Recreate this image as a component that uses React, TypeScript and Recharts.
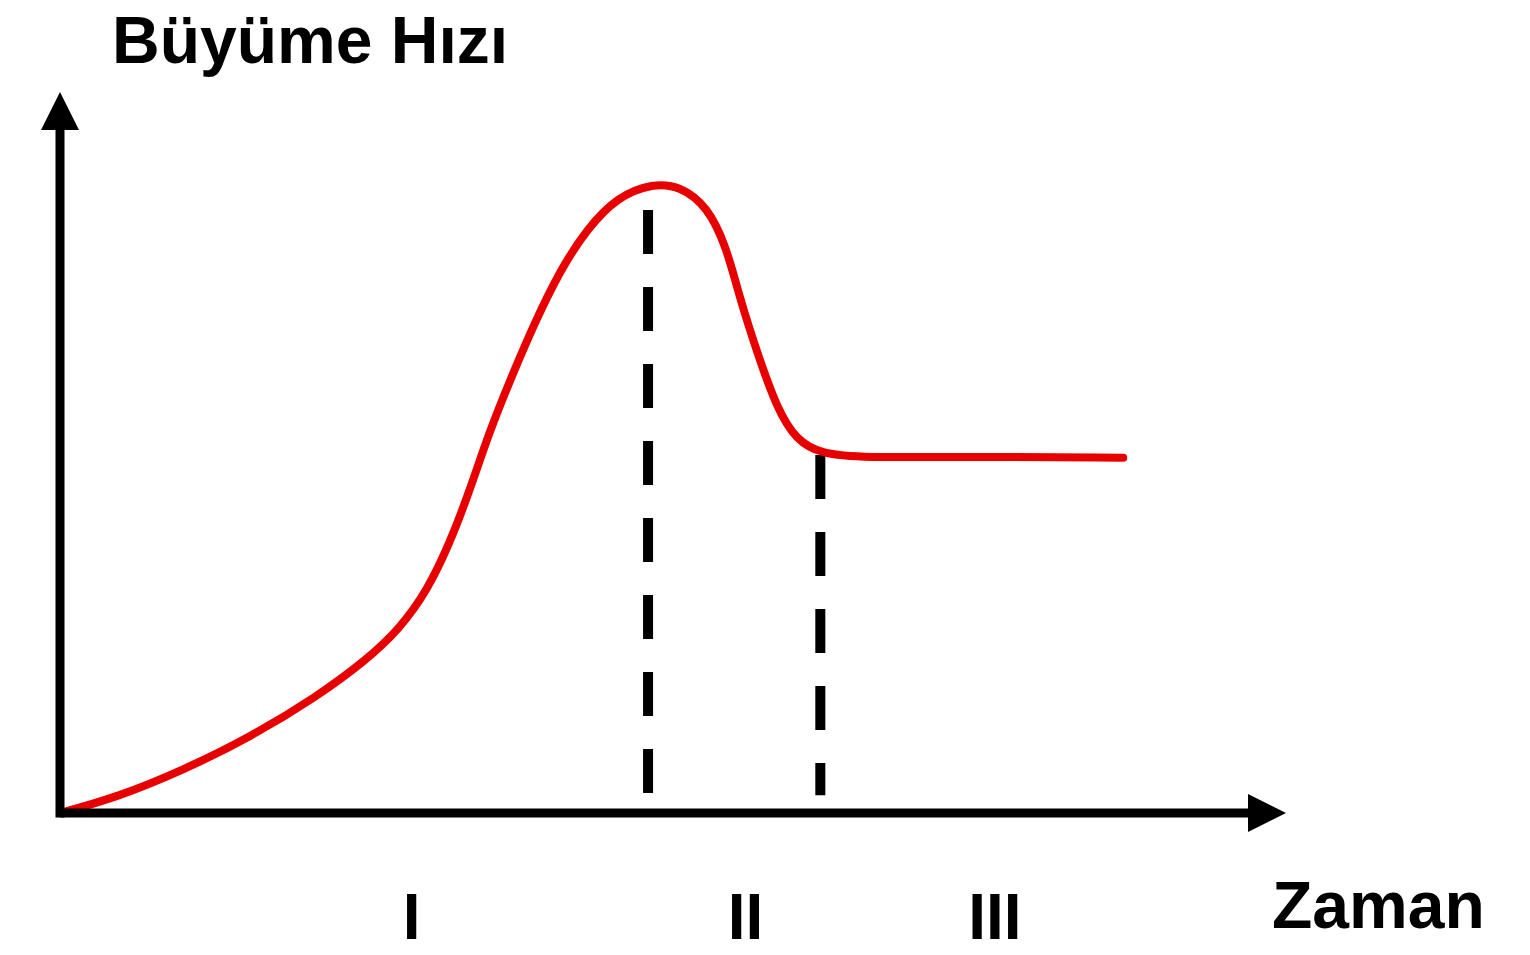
import { LineChart, Line, XAxis, YAxis, ReferenceLine } from 'recharts';

// growth-rate curve (time, rate on 0–100 scales)
const time = [0, 4.8, 10.4, 16.0, 21.6, 25.8, 28.6, 30.9, 32.8, 34.3, 36.2, 37.9, 39.8, 42.1, 44.4, 46.9, 49.9, 52.2, 54.5, 56.1, 57.2, 58.7, 60.4, 62.0, 64.0, 67.6, 76.0, 89.5];
const rate = [0, 2.3, 6.3, 11.1, 17.0, 22.4, 27.0, 32.5, 39.5, 46.3, 56.1, 63.4, 71.2, 79.5, 85.6, 90.2, 92.2, 91.8, 88.8, 82.9, 75.5, 67.3, 59.0, 54.6, 52.6, 52.0, 52.2, 52.0];

// phase boundaries (dashed drop lines)
const boundaryX = [49.5, 64.0];
const boundaryTop = [88.3, 52.4];
const boundaryBottom = [1.9, 2.6];

// phase labels under the time axis
const phaseTicks = [29.6, 57.7, 78.7];
const phaseLabels = ['I', 'II', 'III'];

const data = time.map((t, i) => ({ t, rate: rate[i] }));

const FONT = '"Liberation Sans", Arial, sans-serif';

export default function App() {
    return (
        <div style={{ position: 'relative', width: 1530, height: 955 }}>
            <style>{`body { margin: 0; }`}</style>
            <svg width={0} height={0} style={{ position: 'absolute' }}>
                <defs>
                    <marker id="arrowHead" viewBox="0 0 10 10" refX="0" refY="5"
                        markerWidth="38" markerHeight="40" markerUnits="userSpaceOnUse"
                        orient="auto-start-reverse">
                        <path d="M0,0 L10,5 L0,10 z" fill="#000" />
                    </marker>
                </defs>
            </svg>
            <LineChart
                width={1530}
                height={955}
                data={data}
                margin={{ top: 130, left: 59, right: 282, bottom: 141 }}
            >
                <XAxis
                    dataKey="t"
                    type="number"
                    domain={[0, 100]}
                    ticks={phaseTicks}
                    tickFormatter={(v: number) => phaseLabels[phaseTicks.indexOf(v)] ?? ''}
                    tickLine={false}
                    tickMargin={75}
                    height={1}
                    interval={0}
                    tick={{ fill: '#000', fontSize: 64, fontWeight: 700, fontFamily: FONT }}
                    axisLine={{ stroke: '#000', strokeWidth: 9, markerEnd: 'url(#arrowHead)' }}
                />
                <YAxis
                    type="number"
                    domain={[0, 100]}
                    width={1}
                    tick={false}
                    tickLine={false}
                    axisLine={{ stroke: '#000', strokeWidth: 9, markerStart: 'url(#arrowHead)', strokeLinecap: 'square' }}
                />
                {boundaryX.map((x, i) => (
                    <ReferenceLine
                        key={x}
                        segment={[{ x, y: boundaryTop[i] }, { x, y: boundaryBottom[i] }]}
                        stroke="#000"
                        strokeWidth={10}
                        strokeDasharray="44 33"
                    />
                ))}
                <Line
                    type="basis"
                    dataKey="rate"
                    stroke="#e60000"
                    strokeWidth={8}
                    strokeLinecap="round"
                    dot={false}
                    isAnimationActive={false}
                />
                <text x={112} y={63} fontFamily={FONT} fontWeight={700} fontSize={66} fill="#000">
                    Büyüme Hızı
                </text>
                <text x={1272} y={928} fontFamily={FONT} fontWeight={700} fontSize={66} fill="#000">
                    Zaman
                </text>
            </LineChart>
        </div>
    );
}
